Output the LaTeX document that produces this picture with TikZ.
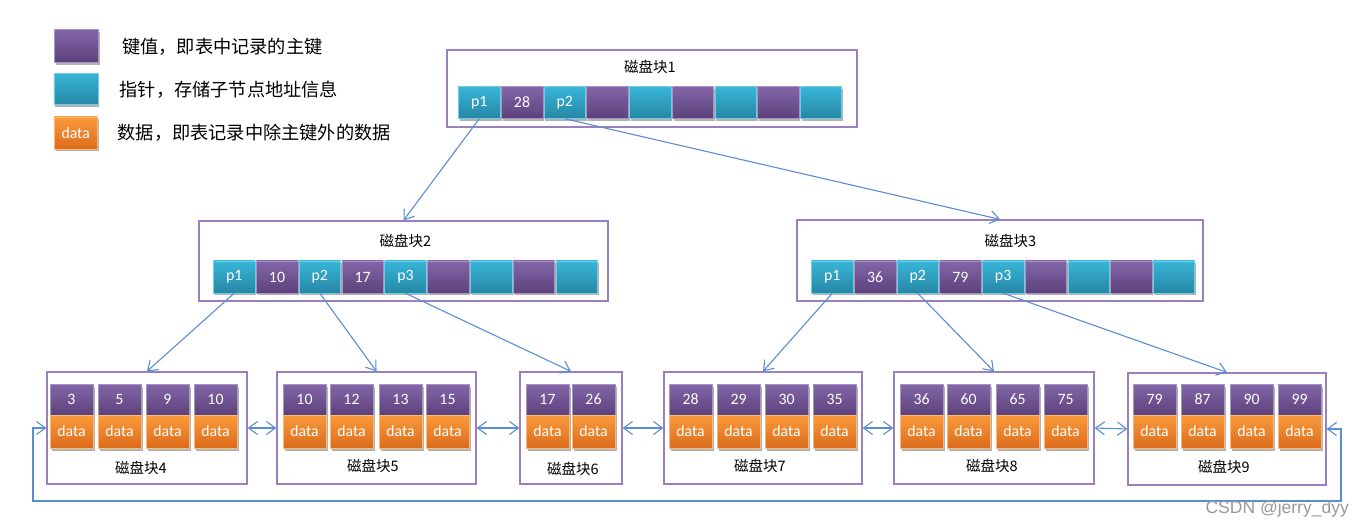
\documentclass[tikz,border=0pt]{standalone}
\usepackage{fontspec}
\setmainfont{Carlito}
\newfontfamily\cjk{Noto Sans CJK SC}
\newfontfamily\wmfont{Liberation Sans}
\usetikzlibrary{arrows.meta,shadows}
\definecolor{kt}{HTML}{8366A8}
\definecolor{kb}{HTML}{5C427C}
\definecolor{pt}{HTML}{38B6D8}
\definecolor{pb}{HTML}{2686A4}
\definecolor{ot}{HTML}{FA9A3C}
\definecolor{ob}{HTML}{DC6C1C}
\definecolor{fr}{HTML}{9A80BE}
\definecolor{ar}{HTML}{5A8ED2}
\tikzset{
  cellbase/.style={minimum width=41.5pt, minimum height=32pt, inner sep=0pt, text=white,
    font=\fontsize{15.8}{17}\selectfont, line width=0.4pt,
    drop shadow={shadow xshift=1.5pt, shadow yshift=-2.5pt, opacity=0.3, fill=black}},
  keycell/.style={cellbase, top color=kt, bottom color=kb, draw=kt!70!white},
  ptrcell/.style={cellbase, top color=pt, bottom color=pb, draw=pt!70!white},
  lkey/.style={keycell, minimum width=43pt, minimum height=31pt},
  ldata/.style={cellbase, top color=ot, bottom color=ob, draw=ot!70!white, minimum width=43pt, minimum height=33pt},
  frame/.style={draw=fr, line width=1.2pt, inner sep=0pt, fill=white},
  title/.style={font=\cjk\fontsize{14.5}{16}\selectfont, text=black, inner sep=0pt},
  legtext/.style={font=\cjk\fontsize{18.2}{20}\selectfont, text=black, anchor=west, inner sep=0pt},
  arr/.style={draw=ar, line width=1.1pt, -{Straight Barb[length=9pt,width=13pt]}},
  darr/.style={draw=ar, line width=1.1pt, {Straight Barb[length=9pt,width=13pt]}-{Straight Barb[length=9pt,width=13pt]}},
}
\begin{document}
\begin{tikzpicture}[x=1pt,y=-1pt]
\useasboundingbox (0,0) rectangle (1365,529);
\fill[white] (0,0) rectangle (1365,529);

% legend
\node[keycell, minimum width=44pt, minimum height=33pt] (lg1) at (76.5,46) {};
\node[ptrcell, minimum width=44pt, minimum height=31pt] (lg2) at (75.8,89) {};
\node[ldata, minimum width=43pt, minimum height=32pt] (lg3) at (75.7,133) {data};
\node[legtext] (lt1) at (122,46.5) {键值，即表中记录的主键};
\node[legtext] (lt2) at (119.5,89.5) {指针，存储子节点地址信息};
\node[legtext] (lt3) at (117.5,133) {数据，即表记录中除主键外的数据};

% internal frames
\node[frame, minimum width=410pt, minimum height=77pt] (n1) at (652,88.5) {};
\node[frame, minimum width=409pt, minimum height=80pt] (n2) at (403.5,261) {};
\node[frame, minimum width=406pt, minimum height=81pt] (n3) at (1000,260.5) {};
\node[title] (n1t) at (650,66.5) {磁盘块1};
\node[title] (n2t) at (405.5,240.5) {磁盘块2};
\node[title] (n3t) at (1010.5,240.5) {磁盘块3};

\foreach \i/\t/\s in {0/p1/ptrcell,1/28/keycell,2/p2/ptrcell,3//keycell,4//ptrcell,5//keycell,6//ptrcell,7//keycell,8//ptrcell}
  \node[\s] (n1c\i) at ({479.3+\i*42.7},102.5) {\t};
\foreach \i/\t/\s in {0/p1/ptrcell,1/10/keycell,2/p2/ptrcell,3/17/keycell,4/p3/ptrcell,5//keycell,6//ptrcell,7//keycell,8//ptrcell}
  \node[\s] (n2c\i) at ({234.2+\i*42.8},277) {\t};
\foreach \i/\t/\s in {0/p1/ptrcell,1/36/keycell,2/p2/ptrcell,3/79/keycell,4/p3/ptrcell,5//keycell,6//ptrcell,7//keycell,8//ptrcell}
  \node[\s] (n3c\i) at ({832.3+\i*42.7},277) {\t};

% leaf frames
\node[frame, minimum width=200pt, minimum height=112pt] (b4) at (147,428) {};
\node[frame, minimum width=199pt, minimum height=112pt] (b5) at (376.5,428) {};
\node[frame, minimum width=102pt, minimum height=112pt] (b6) at (571,428) {};
\node[frame, minimum width=198pt, minimum height=112pt] (b7) at (763,428) {};
\node[frame, minimum width=200pt, minimum height=112pt] (b8) at (994,428) {};
\node[frame, minimum width=198pt, minimum height=112pt] (b9) at (1227,429) {};

\node[title] (t4) at (141,468) {磁盘块4};
\node[title] (t5) at (373,466) {磁盘块5};
\node[title] (t6) at (573,469) {磁盘块6};
\node[title] (t7) at (760,466) {磁盘块7};
\node[title] (t8) at (992,466) {磁盘块8};
\node[title] (t9) at (1224,467) {磁盘块9};

% leaf cells
\foreach \i/\x/\k in {1/50/3,2/98/5,3/146/9,4/194/10}{
  \node[lkey] (l4k\i) at ({\x+21.5},399.5) {\k};
  \node[ldata] (l4d\i) at ({\x+21.5},431.5) {data};}
\foreach \i/\x/\k in {1/283/10,2/330/12,3/379/13,4/426/15}{
  \node[lkey] (l5k\i) at ({\x+21.5},399.5) {\k};
  \node[ldata] (l5d\i) at ({\x+21.5},431.5) {data};}
\foreach \i/\x/\k in {1/526/17,2/572/26}{
  \node[lkey] (l6k\i) at ({\x+21.5},399.5) {\k};
  \node[ldata] (l6d\i) at ({\x+21.5},431.5) {data};}
\foreach \i/\x/\k in {1/669/28,2/717/29,3/765/30,4/813/35}{
  \node[lkey] (l7k\i) at ({\x+21.5},399.5) {\k};
  \node[ldata] (l7d\i) at ({\x+21.5},431.5) {data};}
\foreach \i/\x/\k in {1/900/36,2/947/60,3/996/65,4/1044/75}{
  \node[lkey] (l8k\i) at ({\x+21.5},399.5) {\k};
  \node[ldata] (l8d\i) at ({\x+21.5},431.5) {data};}
\foreach \i/\x/\k in {1/1133/79,2/1181/87,3/1230/90,4/1278/99}{
  \node[lkey] (l9k\i) at ({\x+21.5},399.5) {\k};
  \node[ldata] (l9d\i) at ({\x+21.5},431.5) {data};}

% tree connectors
\draw[arr] (n1c0.south) -- (n2.north);
\draw[arr] (n1c2.south) -- (n3.north);
\draw[arr] (n2c0.south) -- (b4.north);
\draw[arr] (n2c2.south) -- (b5.north);
\draw[arr] (n2c4.south) -- (b6.north);
\draw[arr] (n3c0.south) -- (b7.north);
\draw[arr] (n3c2.south) -- (b8.north);
\draw[arr] (n3c4.south) -- (b9.north);

% leaf links
\draw[darr] (b4.east) -- (b5.west);
\draw[darr] (b5.east) -- (b6.west);
\draw[darr] (b6.east) -- (b7.west);
\draw[darr] (b7.east) -- (b8.west);
\draw[darr] (b8.east) -- (b9.west);
\coordinate (lpL) at (33,501);
\coordinate (lpR) at (1341,501);
\draw[darr] (b4.west) -- (b4.west -| lpL) -- (lpL) -- (lpR) -- (lpR |- b9.east) -- (b9.east);

\node[anchor=east, text=black!40, font=\wmfont\fontsize{17.5}{20}\selectfont, inner sep=0pt] (wm) at (1349,509) {CSDN @jerry\_dyy};
\end{tikzpicture}
\end{document}
